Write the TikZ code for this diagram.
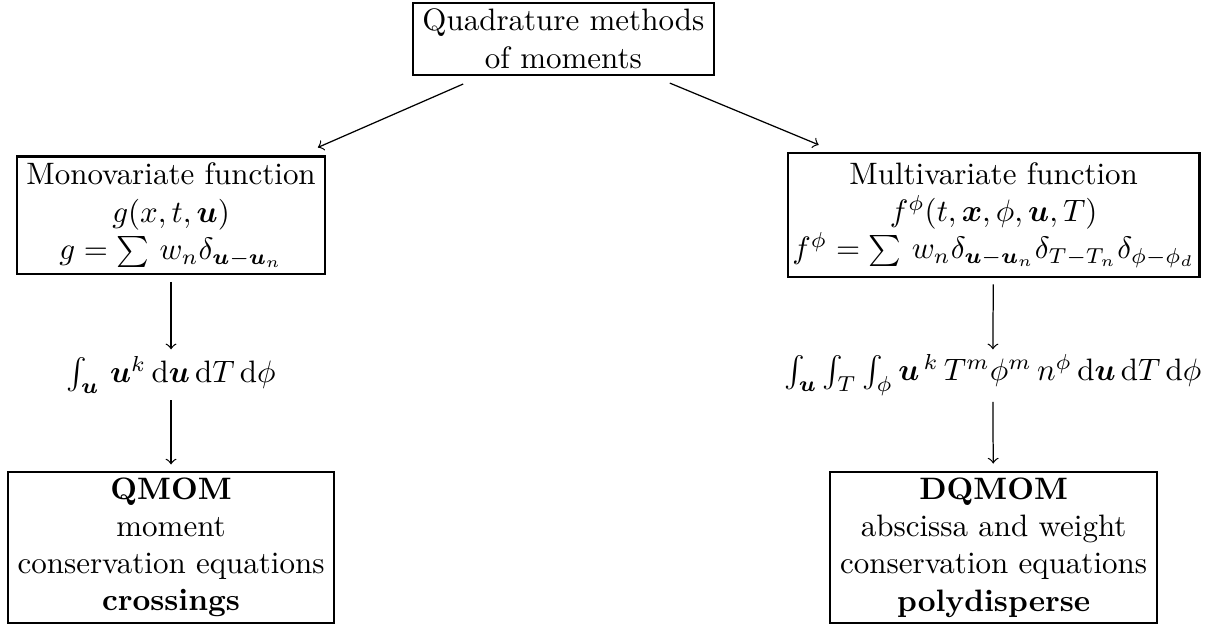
\documentclass[tikz,border=0pt]{standalone}
\usepackage{amsmath}
\usepackage{bm}
\usepackage{tikz}

\begin{document}
\begin{tikzpicture}[
  topbox/.style={draw, rectangle, line width=0.65pt, align=center, inner sep=2pt, minimum width=3.41cm, minimum height=0.82cm},
  midbox/.style={draw, rectangle, line width=0.65pt, align=center, inner sep=2pt},
  endbox/.style={draw, rectangle, line width=0.65pt, align=center, inner sep=2pt, minimum height=1.69cm},
  formula/.style={inner sep=0pt, minimum height=16pt},
  link/.style={->, >=to, line width=0.4pt}
]
\useasboundingbox (0,0) rectangle (13.69,-7.10);

\node[topbox] (quad) at (6.39,-0.44) {Quadrature methods\\ of moments};

\node[midbox, minimum width=3.49cm, minimum height=1.33cm] (mono) at (1.94,-2.44) {Monovariate function\\ $g(x,t,\bm u)$\\ $g=\sum\, w_n\delta_{\bm u-\bm u_n}$};
\node[midbox, inner sep=1.5pt, minimum width=4.48cm, minimum height=1.41cm] (multi) at (11.27,-2.44) {Multivariate function\\ $f^\phi(t,\bm x,\phi,\bm u,T)$\\ $f^\phi=\sum\, w_n\delta_{\bm u-\bm u_n}\delta_{T-T_n}\delta_{\phi-\phi_d}$};

\node[formula] (intL) at (1.94,-4.25) {$\int_{\bm u}\,\bm u^k\,\mathrm d\bm u\,\mathrm dT\,\mathrm d\phi$};
\node[formula] (intR) at (11.26,-4.25) {$\int_{\bm u}\int_T\int_\phi\bm u^{\,k}\,T^m\phi^m\,n^\phi\,\mathrm d\bm u\,\mathrm dT\,\mathrm d\phi$};

\node[endbox, minimum width=3.70cm] (qmom) at (1.94,-6.21) {\textbf{QMOM}\\ moment\\ conservation equations\\ \textbf{crossings}};
\node[endbox, minimum width=3.71cm] (dqmom) at (11.27,-6.21) {\textbf{DQMOM}\\ abscissa and weight\\ conservation equations\\ \textbf{polydisperse}};

\draw[link] ([xshift=16.5pt,yshift=-2.6pt]quad.south west) -- ([xshift=-2.6pt,yshift=2.6pt]mono.north east);
\draw[link] ([xshift=-14.5pt,yshift=-2.3pt]quad.south east) -- ([xshift=10.3pt,yshift=2.3pt]multi.north west);

\draw[link, shorten <=2.3pt] (mono) -- (intL);
\draw[link, shorten >=2pt] (intL) -- (qmom);
\draw[link, shorten <=2pt] (multi) -- (intR);
\draw[link, shorten <=0.6pt, shorten >=2.3pt] (intR) -- (dqmom);

\end{tikzpicture}
\end{document}
